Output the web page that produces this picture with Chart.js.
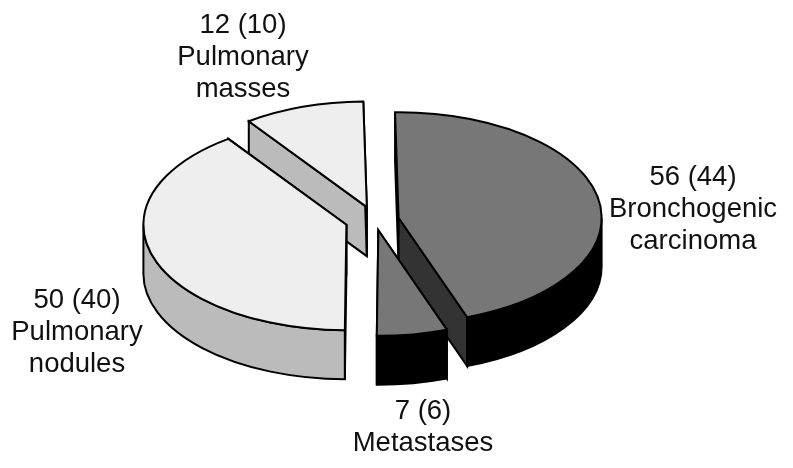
<!DOCTYPE html>
<html>
<head>
<meta charset="utf-8">
<style>
  html, body { margin: 0; padding: 0; background: #fff; }
  #wrap { width: 793px; height: 468px; }
</style>
<script src="https://cdn.jsdelivr.net/npm/chart.js@4"></script>
</head>
<body>
<div id="wrap"><canvas id="pie" width="793" height="468"></canvas></div>
<script>
// case counts, clockwise from 12 o'clock
const categories = ['Bronchogenic carcinoma', 'Metastases', 'Pulmonary nodules', 'Pulmonary masses'];
const counts = [56, 7, 50, 12];
const percents = [44, 6, 40, 10];

const topColors = ['#777777', '#777777', '#eeeeee', '#eeeeee'];
const outerWallColors = ['#000000', '#000000', '#bbbbbb', '#bbbbbb'];
const cutWallColors = ['#333333', '#000000', '#bbbbbb', '#bbbbbb'];
const slideOut = [24, 20, 30, 26];

// label layout: centre x, y of first line
const labelLines = [
    [counts[0] + ' (' + percents[0] + ')', 'Bronchogenic', 'carcinoma'],
    [counts[1] + ' (' + percents[1] + ')', 'Metastases'],
    [counts[2] + ' (' + percents[2] + ')', 'Pulmonary', 'nodules'],
    [counts[3] + ' (' + percents[3] + ')', 'Pulmonary', 'masses']
];
const labelX = [693, 423, 77, 243];
const labelY = [177, 411, 300, 25];

const TILT = 0.52;
const DEPTH = 49;
const CENTER_Y = 220;

function strokeFlat(ctx) {
    ctx.save();
    ctx.setTransform(1, 0, 0, 1, 0, 0);
    ctx.lineWidth = 2;
    ctx.strokeStyle = '#000';
    ctx.stroke();
    ctx.restore();
}

function cutWall(ctx, arc, angle, depth, color) {
    const ex = arc.x + Math.cos(angle) * arc.outerRadius;
    const ey = arc.y + Math.sin(angle) * arc.outerRadius;
    ctx.beginPath();
    ctx.moveTo(arc.x, arc.y);
    ctx.lineTo(ex, ey);
    ctx.lineTo(ex, ey + depth);
    ctx.lineTo(arc.x, arc.y + depth);
    ctx.closePath();
    ctx.fillStyle = color;
    ctx.fill();
    strokeFlat(ctx);
}

const pie3d = {
    id: 'pie3d',
    // the library's arc offset also grows the radius, so slide the arcs here instead
    afterDatasetsUpdate(chart) {
        chart.getDatasetMeta(0).data.forEach((arc, i) => {
            const mid = (arc.startAngle + arc.endAngle) / 2;
            arc.x += Math.cos(mid) * slideOut[i];
            arc.y += Math.sin(mid) * slideOut[i];
        });
    },
    beforeDatasetsDraw(chart) {
        const ctx = chart.ctx;
        const arcs = chart.getDatasetMeta(0).data;
        const area = chart.chartArea;
        const depth = DEPTH / TILT;

        ctx.save();
        ctx.translate(0, CENTER_Y);
        ctx.scale(1, TILT);
        ctx.translate(0, -(area.top + area.bottom) / 2);

        // back slices first
        [3, 0, 2, 1].forEach(i => {
            const arc = arcs[i];
            cutWall(ctx, arc, arc.startAngle, depth, cutWallColors[i]);
            cutWall(ctx, arc, arc.endAngle, depth, cutWallColors[i]);

            // only the front half of the rim can be seen
            const from = Math.max(arc.startAngle, 0);
            const to = Math.min(arc.endAngle, Math.PI);
            if (to > from) {
                ctx.beginPath();
                ctx.arc(arc.x, arc.y, arc.outerRadius, from, to);
                ctx.arc(arc.x, arc.y + depth, arc.outerRadius, to, from, true);
                ctx.closePath();
                ctx.fillStyle = outerWallColors[i];
                ctx.fill();
                strokeFlat(ctx);
            }
        });
        // top faces are drawn by the library under this transform
    },
    afterDatasetsDraw(chart) {
        const ctx = chart.ctx;
        chart.getDatasetMeta(0).data.forEach(arc => {
            ctx.beginPath();
            ctx.moveTo(arc.x, arc.y);
            ctx.arc(arc.x, arc.y, arc.outerRadius, arc.startAngle, arc.endAngle);
            ctx.closePath();
            strokeFlat(ctx);
        });
        ctx.restore();

        // labels
        ctx.save();
        ctx.font = '27.5px "Liberation Sans"';
        ctx.fillStyle = '#111';
        ctx.textAlign = 'center';
        ctx.textBaseline = 'middle';
        labelLines.forEach((lines, i) => {
            lines.forEach((line, n) => {
                ctx.fillText(line, labelX[i], labelY[i] + n * 32);
            });
        });
        ctx.restore();
    }
};

new Chart(document.getElementById('pie'), {
    type: 'pie',
    data: {
        labels: categories,
        datasets: [{
            data: counts,
            backgroundColor: topColors,
            borderWidth: 0,
            clip: false
        }]
    },
    options: {
        responsive: false,
        animation: false,
        radius: 203,
        rotation: -1,
        layout: { padding: { right: 43 } },
        events: [],
        plugins: {
            legend: { display: false },
            tooltip: { enabled: false }
        }
    },
    plugins: [pie3d]
});
</script>
</body>
</html>
